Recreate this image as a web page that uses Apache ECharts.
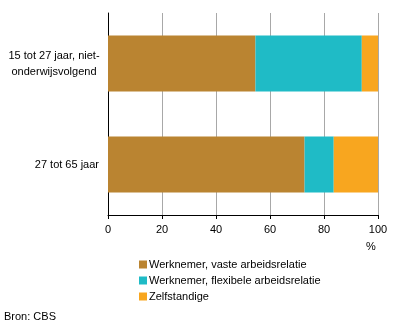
<!DOCTYPE html>
<html><head><meta charset="utf-8">
<script src="https://cdn.jsdelivr.net/npm/echarts@6/dist/echarts.min.js"></script>
<style>html,body{margin:0;padding:0;background:#fff}#c{width:396px;height:328px}</style>
</head><body><div id="c"></div>
<script>
const categories = ['15 tot 27 jaar, niet-\nonderwijsvolgend', '27 tot 65 jaar'];
const vast = [54.6, 72.8];
const flexibel = [39.4, 10.8];
const zelfstandig = [6.0, 16.4];
const seriesNames = ['Werknemer, vaste arbeidsrelatie', 'Werknemer, flexibele arbeidsrelatie', 'Zelfstandige'];
const colors = ['#BA8431', '#1FBBC6', '#F8A61F'];
const xTicks = [0, 20, 40, 60, 80, 100];

const font = 'Liberation Sans, Arial, sans-serif';
const chart = echarts.init(document.getElementById('c'), null, {renderer: 'canvas'});
const mk = (name, data, i) => ({
  name, type: 'bar', stack: 's', data, barWidth: 56,
  itemStyle: {color: colors[i]}, animation: false
});
chart.setOption({
  animation: false,
  textStyle: {fontFamily: font},
  grid: {left: 108, right: 18, top: 13, bottom: 113},
  xAxis: {
    type: 'value', min: xTicks[0], max: xTicks[xTicks.length - 1], interval: 20,
    axisLine: {show: true, lineStyle: {color: '#000', width: 1}},
    axisTick: {show: true, length: 4, lineStyle: {color: '#000'}},
    axisLabel: {color: '#000', fontSize: 11, margin: 9, fontFamily: font},
    splitLine: {show: true, lineStyle: {color: '#a8a8a8', width: 1}}
  },
  yAxis: {
    type: 'category', inverse: true, data: categories,
    axisLine: {show: true, lineStyle: {color: '#000', width: 1}},
    axisTick: {show: false},
    axisLabel: {
      color: '#000', fontSize: 11, margin: 9, lineHeight: 16, fontFamily: font,
      formatter: v => v.indexOf('\n') >= 0 ? v.split('\n').map(s => '{c|' + s + '}').join('\n') : v,
      rich: {c: {width: 90, align: 'center', fontSize: 11, lineHeight: 16, color: '#000', fontFamily: font}}
    }
  },
  legend: {
    orient: 'vertical', left: 134, top: 254, itemWidth: 8, itemHeight: 8, itemGap: 5,
    icon: 'rect',
    textStyle: {color: '#000', fontSize: 11, fontFamily: font, padding: [0, 0, 0, -3]},
    data: seriesNames
  },
  graphic: [
    {type: 'text', left: 366, top: 241, style: {text: '%', fill: '#000', font: '11px ' + font}},
    {type: 'text', left: 4, top: 311, style: {text: 'Bron: CBS', fill: '#000', font: '11px ' + font}}
  ],
  series: [mk(seriesNames[0], vast, 0), mk(seriesNames[1], flexibel, 1), mk(seriesNames[2], zelfstandig, 2)]
});
</script></body></html>
